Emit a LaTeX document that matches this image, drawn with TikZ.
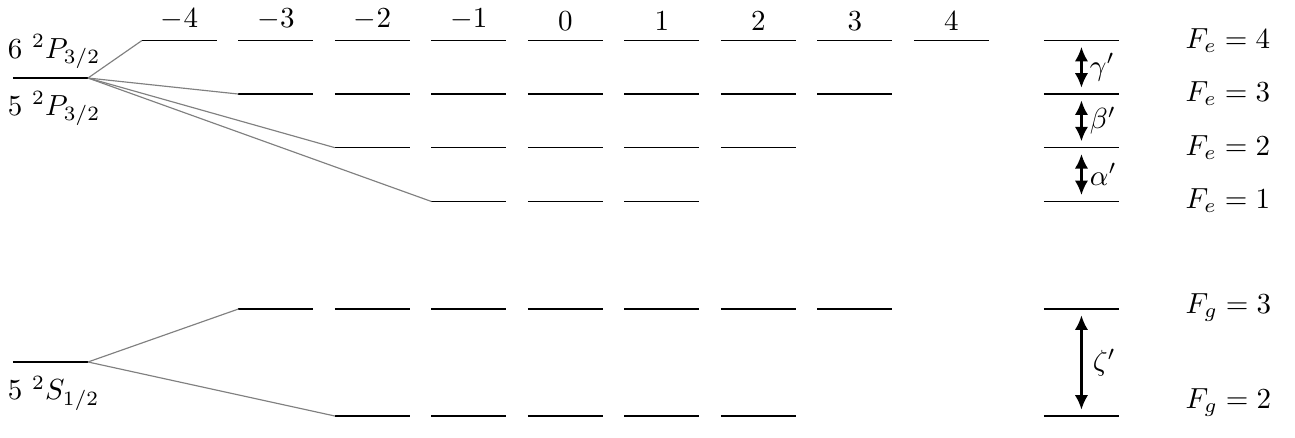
\documentclass[tikz,border=0pt]{standalone}
\usetikzlibrary{arrows.meta}
\tikzset{
  lev/.style={line width=0.5pt, black},
  fan/.style={line width=0.4pt, black!50!white},
  mno/.style={above},
  flab/.style={anchor=base west, inner sep=0pt},
  split/.style={line width=0.8pt, {Latex[length=5pt,width=4.6pt]}-{Latex[length=5pt,width=4.6pt]},
    shorten >=2.2pt, shorten <=2.2pt},
}
\begin{document}
\begin{tikzpicture}
\useasboundingbox (0,0) rectangle (15.67,5.288);
% fine structure
\coordinate (P) at (1.065,4.344);
\coordinate (S) at (1.065,0.908);
\draw[lev] (0.157,4.344) -- (P);
\draw[lev] (0.157,0.908) -- (S);
\node[flab] (p6) at (0.089,4.582) {$6\ ^2P_{3/2}$};
\node[flab] (p5) at (0.089,3.896) {$5\ ^2P_{3/2}$};
\node[flab] (s5) at (0.089,0.448) {$5\ ^2S_{1/2}$};
% hyperfine sublevels
\foreach \y/\r/\a/\b in {4.798/e4/1/9, 4.150/e3/2/8, 3.501/e2/3/7, 2.850/e1/4/6, 1.549/g3/2/8, 0.254/g2/3/7} {
  \foreach \i in {\a,...,\b}
    \draw[lev] (0.5505+1.1675*\i,\y) coordinate (\r c\i) -- ++(0.9075,0);
  \coordinate (\r) at (12.632,\y);
  \draw[lev] (\r) -- ++(0.9075,0);
}
% m_F numbers
\foreach \i/\m in {1/-4, 2/-3, 3/-2, 4/-1, 5/0, 6/1, 7/2, 8/3, 9/4}
  \node[mno] (m\i) at ([xshift=0.454cm]e4c\i) {$\m$};
% fan out
\draw[fan] (P) -- (e4c1);
\draw[fan] (P) -- (e3c2);
\draw[fan] (P) -- (e2c3);
\draw[fan] (P) -- (e1c4);
\draw[fan] (S) -- (g3c2);
\draw[fan] (S) -- (g2c3);
% splittings
\draw[split] ([xshift=0.454cm]e4) -- node[right, inner sep=2.5pt] (ga) {$\gamma'$} ([xshift=0.454cm]e3);
\draw[split] ([xshift=0.454cm]e3) -- node[right, inner sep=2.5pt] (be) {$\beta'$} ([xshift=0.454cm]e2);
\draw[split] ([xshift=0.454cm]e2) -- node[right, inner sep=2.5pt] (al) {$\alpha'$} ([xshift=0.454cm]e1);
\draw[split] ([xshift=0.454cm]g3) -- node[right, inner sep=3.5pt] (ze) {$\zeta'$} ([xshift=0.454cm]g2);
% F labels
\node[flab] (fe4) at (14.34,4.707) {$F_e=4$};
\node[flab] (fe3) at (14.34,4.060) {$F_e=3$};
\node[flab] (fe2) at (14.34,3.412) {$F_e=2$};
\node[flab] (fe1) at (14.34,2.771) {$F_e=1$};
\node[flab] (fg3) at (14.34,1.500) {$F_g=3$};
\node[flab] (fg2) at (14.34,0.351) {$F_g=2$};
\end{tikzpicture}
\end{document}
